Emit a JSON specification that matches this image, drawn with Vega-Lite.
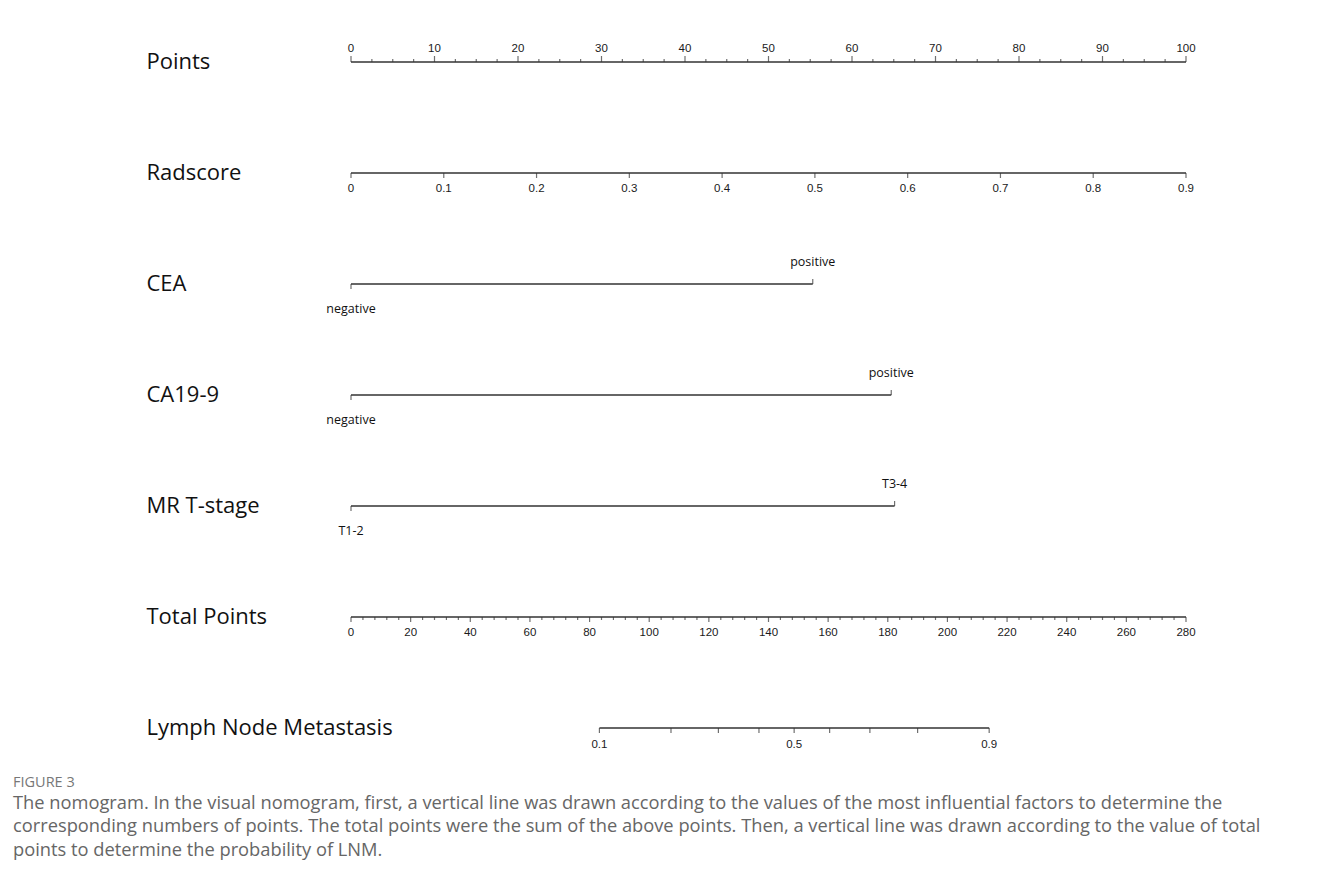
{
  "$schema": "https://vega.github.io/schema/vega-lite/v6.json",
  "width": 835,
  "height": 666,
  "autosize": {"type": "none"},
  "padding": {"left": 351, "top": 62, "right": 145, "bottom": 158},
  "background": "white",
  "config": {"view": {"stroke": null}},
  "title": {
    "text": "FIGURE 3",
    "subtitle": [
      "The nomogram. In the visual nomogram, first, a vertical line was drawn according to the values of the most influential factors to determine the",
      "corresponding numbers of points. The total points were the sum of the above points. Then, a vertical line was drawn according to the value of total",
      "points to determine the probability of LNM."
    ],
    "orient": "bottom",
    "anchor": "start",
    "frame": "group",
    "dx": -338,
    "offset": 26,
    "font": "Open Sans",
    "fontSize": 14.5,
    "fontWeight": "normal",
    "color": "#777777",
    "subtitleFont": "Open Sans",
    "subtitleFontSize": 18.3,
    "subtitleColor": "#666666",
    "subtitleLineHeight": 23.5,
    "subtitlePadding": 4
  },
  "datasets": {
    "pts": [
      {"row":"Points","v":0,"lab":"0"},{"row":"Points","v":2.5,"lab":""},{"row":"Points","v":5,"lab":""},{"row":"Points","v":7.5,"lab":""},
      {"row":"Points","v":10,"lab":"10"},{"row":"Points","v":12.5,"lab":""},{"row":"Points","v":15,"lab":""},{"row":"Points","v":17.5,"lab":""},
      {"row":"Points","v":20,"lab":"20"},{"row":"Points","v":22.5,"lab":""},{"row":"Points","v":25,"lab":""},{"row":"Points","v":27.5,"lab":""},
      {"row":"Points","v":30,"lab":"30"},{"row":"Points","v":32.5,"lab":""},{"row":"Points","v":35,"lab":""},{"row":"Points","v":37.5,"lab":""},
      {"row":"Points","v":40,"lab":"40"},{"row":"Points","v":42.5,"lab":""},{"row":"Points","v":45,"lab":""},{"row":"Points","v":47.5,"lab":""},
      {"row":"Points","v":50,"lab":"50"},{"row":"Points","v":52.5,"lab":""},{"row":"Points","v":55,"lab":""},{"row":"Points","v":57.5,"lab":""},
      {"row":"Points","v":60,"lab":"60"},{"row":"Points","v":62.5,"lab":""},{"row":"Points","v":65,"lab":""},{"row":"Points","v":67.5,"lab":""},
      {"row":"Points","v":70,"lab":"70"},{"row":"Points","v":72.5,"lab":""},{"row":"Points","v":75,"lab":""},{"row":"Points","v":77.5,"lab":""},
      {"row":"Points","v":80,"lab":"80"},{"row":"Points","v":82.5,"lab":""},{"row":"Points","v":85,"lab":""},{"row":"Points","v":87.5,"lab":""},
      {"row":"Points","v":90,"lab":"90"},{"row":"Points","v":92.5,"lab":""},{"row":"Points","v":95,"lab":""},{"row":"Points","v":97.5,"lab":""},
      {"row":"Points","v":100,"lab":"100"}
    ],
    "rad": [
      {"row":"Radscore","v":0,"lab":"0"},{"row":"Radscore","v":0.1,"lab":"0.1"},{"row":"Radscore","v":0.2,"lab":"0.2"},{"row":"Radscore","v":0.3,"lab":"0.3"},
      {"row":"Radscore","v":0.4,"lab":"0.4"},{"row":"Radscore","v":0.5,"lab":"0.5"},{"row":"Radscore","v":0.6,"lab":"0.6"},{"row":"Radscore","v":0.7,"lab":"0.7"},
      {"row":"Radscore","v":0.8,"lab":"0.8"},{"row":"Radscore","v":0.9,"lab":"0.9"}
    ],
    "cat": [
      {"row":"CEA","level":"negative","pts":0,"side":"below"},
      {"row":"CEA","level":"positive","pts":55.3,"side":"above"},
      {"row":"CA19-9","level":"negative","pts":0,"side":"below"},
      {"row":"CA19-9","level":"positive","pts":64.7,"side":"above"},
      {"row":"MR T-stage","level":"T1-2","pts":0,"side":"below"},
      {"row":"MR T-stage","level":"T3-4","pts":65.1,"side":"above"}
    ],
    "tot": [
      {"row":"Total Points","v":0,"lab":"0"},{"row":"Total Points","v":4,"lab":""},{"row":"Total Points","v":8,"lab":""},{"row":"Total Points","v":12,"lab":""},{"row":"Total Points","v":16,"lab":""},
      {"row":"Total Points","v":20,"lab":"20"},{"row":"Total Points","v":24,"lab":""},{"row":"Total Points","v":28,"lab":""},{"row":"Total Points","v":32,"lab":""},{"row":"Total Points","v":36,"lab":""},
      {"row":"Total Points","v":40,"lab":"40"},{"row":"Total Points","v":44,"lab":""},{"row":"Total Points","v":48,"lab":""},{"row":"Total Points","v":52,"lab":""},{"row":"Total Points","v":56,"lab":""},
      {"row":"Total Points","v":60,"lab":"60"},{"row":"Total Points","v":64,"lab":""},{"row":"Total Points","v":68,"lab":""},{"row":"Total Points","v":72,"lab":""},{"row":"Total Points","v":76,"lab":""},
      {"row":"Total Points","v":80,"lab":"80"},{"row":"Total Points","v":84,"lab":""},{"row":"Total Points","v":88,"lab":""},{"row":"Total Points","v":92,"lab":""},{"row":"Total Points","v":96,"lab":""},
      {"row":"Total Points","v":100,"lab":"100"},{"row":"Total Points","v":104,"lab":""},{"row":"Total Points","v":108,"lab":""},{"row":"Total Points","v":112,"lab":""},{"row":"Total Points","v":116,"lab":""},
      {"row":"Total Points","v":120,"lab":"120"},{"row":"Total Points","v":124,"lab":""},{"row":"Total Points","v":128,"lab":""},{"row":"Total Points","v":132,"lab":""},{"row":"Total Points","v":136,"lab":""},
      {"row":"Total Points","v":140,"lab":"140"},{"row":"Total Points","v":144,"lab":""},{"row":"Total Points","v":148,"lab":""},{"row":"Total Points","v":152,"lab":""},{"row":"Total Points","v":156,"lab":""},
      {"row":"Total Points","v":160,"lab":"160"},{"row":"Total Points","v":164,"lab":""},{"row":"Total Points","v":168,"lab":""},{"row":"Total Points","v":172,"lab":""},{"row":"Total Points","v":176,"lab":""},
      {"row":"Total Points","v":180,"lab":"180"},{"row":"Total Points","v":184,"lab":""},{"row":"Total Points","v":188,"lab":""},{"row":"Total Points","v":192,"lab":""},{"row":"Total Points","v":196,"lab":""},
      {"row":"Total Points","v":200,"lab":"200"},{"row":"Total Points","v":204,"lab":""},{"row":"Total Points","v":208,"lab":""},{"row":"Total Points","v":212,"lab":""},{"row":"Total Points","v":216,"lab":""},
      {"row":"Total Points","v":220,"lab":"220"},{"row":"Total Points","v":224,"lab":""},{"row":"Total Points","v":228,"lab":""},{"row":"Total Points","v":232,"lab":""},{"row":"Total Points","v":236,"lab":""},
      {"row":"Total Points","v":240,"lab":"240"},{"row":"Total Points","v":244,"lab":""},{"row":"Total Points","v":248,"lab":""},{"row":"Total Points","v":252,"lab":""},{"row":"Total Points","v":256,"lab":""},
      {"row":"Total Points","v":260,"lab":"260"},{"row":"Total Points","v":264,"lab":""},{"row":"Total Points","v":268,"lab":""},{"row":"Total Points","v":272,"lab":""},{"row":"Total Points","v":276,"lab":""},
      {"row":"Total Points","v":280,"lab":"280"}
    ],
    "lnm": [
      {"row":"Lymph Node Metastasis","prob":0.1,"total":83.3,"lab":"0.1"},
      {"row":"Lymph Node Metastasis","prob":0.2,"total":107.3,"lab":""},
      {"row":"Lymph Node Metastasis","prob":0.3,"total":123.2,"lab":""},
      {"row":"Lymph Node Metastasis","prob":0.4,"total":136.8,"lab":""},
      {"row":"Lymph Node Metastasis","prob":0.5,"total":148.6,"lab":"0.5"},
      {"row":"Lymph Node Metastasis","prob":0.6,"total":160.5,"lab":""},
      {"row":"Lymph Node Metastasis","prob":0.7,"total":174.0,"lab":""},
      {"row":"Lymph Node Metastasis","prob":0.8,"total":190.0,"lab":""},
      {"row":"Lymph Node Metastasis","prob":0.9,"total":214.0,"lab":"0.9"}
    ]
  },
  "encoding": {
    "y": {
      "field": "row",
      "type": "nominal",
      "scale": {"type": "point", "domain": ["Points","Radscore","CEA","CA19-9","MR T-stage","Total Points","Lymph Node Metastasis"], "range": [0, 666], "padding": 0},
      "axis": {"title": null, "domain": false, "ticks": false, "grid": false, "labelAlign": "left", "labelPadding": 205, "labelFont": "Open Sans", "labelFontSize": 22, "labelColor": "#111111", "labelBaseline": "middle", "labelLimit": 400, "labelOffset": -1}
    }
  },
  "resolve": {"scale": {"x": "independent"}},
  "layer": [
    {"data": {"name": "pts"}, "mark": {"type": "rule", "color": "#333333", "strokeWidth": 1.3},
     "encoding": {"x": {"aggregate": "min", "field": "v", "type": "quantitative", "scale": {"domain": [0, 100], "nice": false, "zero": false}, "axis": null}, "x2": {"aggregate": "max", "field": "v"}}},
    {"data": {"name": "pts"}, "transform": [{"filter": "datum.lab != ''"}], "mark": {"type": "tick", "color": "#333333", "thickness": 1.2, "size": 6, "yOffset": -3, "orient": "vertical"},
     "encoding": {"x": {"field": "v", "type": "quantitative", "scale": {"domain": [0, 100], "nice": false, "zero": false}, "axis": null}}},
    {"data": {"name": "pts"}, "transform": [{"filter": "datum.lab == ''"}], "mark": {"type": "tick", "color": "#333333", "thickness": 1.2, "size": 3, "yOffset": -1.5, "orient": "vertical"},
     "encoding": {"x": {"field": "v", "type": "quantitative", "scale": {"domain": [0, 100], "nice": false, "zero": false}, "axis": null}}},
    {"data": {"name": "pts"}, "transform": [{"filter": "datum.lab != ''"}], "mark": {"type": "text", "font": "Liberation Sans", "fontSize": 11.5, "color": "#1a1a1a", "yOffset": -13, "baseline": "middle", "align": "center"},
     "encoding": {"x": {"field": "v", "type": "quantitative", "scale": {"domain": [0, 100], "nice": false, "zero": false}, "axis": null}, "text": {"field": "lab"}}},

    {"data": {"name": "rad"}, "mark": {"type": "rule", "color": "#333333", "strokeWidth": 1.3},
     "encoding": {"x": {"aggregate": "min", "field": "v", "type": "quantitative", "scale": {"domain": [0, 0.9], "nice": false, "zero": false}, "axis": null}, "x2": {"aggregate": "max", "field": "v"}}},
    {"data": {"name": "rad"}, "mark": {"type": "tick", "color": "#333333", "thickness": 1.2, "size": 5, "yOffset": 2.5, "orient": "vertical"},
     "encoding": {"x": {"field": "v", "type": "quantitative", "scale": {"domain": [0, 0.9], "nice": false, "zero": false}, "axis": null}}},
    {"data": {"name": "rad"}, "mark": {"type": "text", "font": "Liberation Sans", "fontSize": 11.5, "color": "#1a1a1a", "yOffset": 15.5, "baseline": "middle", "align": "center"},
     "encoding": {"x": {"field": "v", "type": "quantitative", "scale": {"domain": [0, 0.9], "nice": false, "zero": false}, "axis": null}, "text": {"field": "lab"}}},

    {"data": {"name": "cat"}, "mark": {"type": "rule", "color": "#333333", "strokeWidth": 1.3},
     "encoding": {"x": {"aggregate": "min", "field": "pts", "type": "quantitative", "scale": {"domain": [0, 100], "nice": false, "zero": false}, "axis": null}, "x2": {"aggregate": "max", "field": "pts"}}},
    {"data": {"name": "cat"}, "transform": [{"filter": "datum.side == 'below'"}], "mark": {"type": "tick", "color": "#333333", "thickness": 1.2, "size": 5, "yOffset": 2.5, "orient": "vertical"},
     "encoding": {"x": {"field": "pts", "type": "quantitative", "scale": {"domain": [0, 100], "nice": false, "zero": false}, "axis": null}}},
    {"data": {"name": "cat"}, "transform": [{"filter": "datum.side == 'above'"}], "mark": {"type": "tick", "color": "#333333", "thickness": 1.2, "size": 5, "yOffset": -2.5, "orient": "vertical"},
     "encoding": {"x": {"field": "pts", "type": "quantitative", "scale": {"domain": [0, 100], "nice": false, "zero": false}, "axis": null}}},
    {"data": {"name": "cat"}, "transform": [{"filter": "datum.side == 'below'"}], "mark": {"type": "text", "font": "Open Sans", "fontSize": 12.5, "color": "#111111", "yOffset": 25, "baseline": "middle", "align": "center"},
     "encoding": {"x": {"field": "pts", "type": "quantitative", "scale": {"domain": [0, 100], "nice": false, "zero": false}, "axis": null}, "text": {"field": "level"}}},
    {"data": {"name": "cat"}, "transform": [{"filter": "datum.side == 'above'"}], "mark": {"type": "text", "font": "Open Sans", "fontSize": 12.5, "color": "#111111", "yOffset": -22, "baseline": "middle", "align": "center"},
     "encoding": {"x": {"field": "pts", "type": "quantitative", "scale": {"domain": [0, 100], "nice": false, "zero": false}, "axis": null}, "text": {"field": "level"}}},

    {"data": {"name": "tot"}, "mark": {"type": "rule", "color": "#333333", "strokeWidth": 1.3},
     "encoding": {"x": {"aggregate": "min", "field": "v", "type": "quantitative", "scale": {"domain": [0, 280], "nice": false, "zero": false}, "axis": null}, "x2": {"aggregate": "max", "field": "v"}}},
    {"data": {"name": "tot"}, "transform": [{"filter": "datum.lab != ''"}], "mark": {"type": "tick", "color": "#333333", "thickness": 1.2, "size": 5, "yOffset": 2.5, "orient": "vertical"},
     "encoding": {"x": {"field": "v", "type": "quantitative", "scale": {"domain": [0, 280], "nice": false, "zero": false}, "axis": null}}},
    {"data": {"name": "tot"}, "transform": [{"filter": "datum.lab == ''"}], "mark": {"type": "tick", "color": "#333333", "thickness": 1.2, "size": 3, "yOffset": 1.5, "orient": "vertical"},
     "encoding": {"x": {"field": "v", "type": "quantitative", "scale": {"domain": [0, 280], "nice": false, "zero": false}, "axis": null}}},
    {"data": {"name": "tot"}, "transform": [{"filter": "datum.lab != ''"}], "mark": {"type": "text", "font": "Liberation Sans", "fontSize": 11.5, "color": "#1a1a1a", "yOffset": 15.5, "baseline": "middle", "align": "center"},
     "encoding": {"x": {"field": "v", "type": "quantitative", "scale": {"domain": [0, 280], "nice": false, "zero": false}, "axis": null}, "text": {"field": "lab"}}},

    {"data": {"name": "lnm"}, "mark": {"type": "rule", "color": "#333333", "strokeWidth": 1.3},
     "encoding": {"x": {"aggregate": "min", "field": "total", "type": "quantitative", "scale": {"domain": [0, 280], "nice": false, "zero": false}, "axis": null}, "x2": {"aggregate": "max", "field": "total"}}},
    {"data": {"name": "lnm"}, "mark": {"type": "tick", "color": "#333333", "thickness": 1.2, "size": 5, "yOffset": 2.5, "orient": "vertical"},
     "encoding": {"x": {"field": "total", "type": "quantitative", "scale": {"domain": [0, 280], "nice": false, "zero": false}, "axis": null}}},
    {"data": {"name": "lnm"}, "transform": [{"filter": "datum.lab != ''"}], "mark": {"type": "text", "font": "Liberation Sans", "fontSize": 11.5, "color": "#1a1a1a", "yOffset": 16.5, "baseline": "middle", "align": "center"},
     "encoding": {"x": {"field": "total", "type": "quantitative", "scale": {"domain": [0, 280], "nice": false, "zero": false}, "axis": null}, "text": {"field": "lab"}}}
  ]
}
